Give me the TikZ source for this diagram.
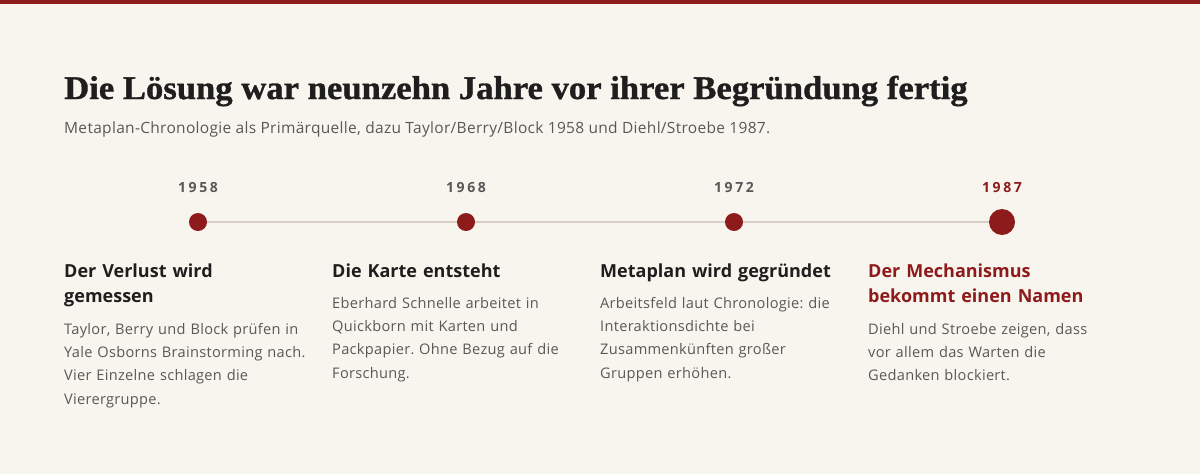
\documentclass[tikz,border=0pt]{standalone}
\usepackage{fontspec}
\setmainfont{Open Sans}
\newfontfamily\titlefont[FakeBold=1]{Liberation Serif}
\frenchspacing
\definecolor{bgc}{HTML}{F8F5EE}
\definecolor{accent}{HTML}{8E1B1B}
\definecolor{ink}{HTML}{1E1E1E}
\definecolor{muted}{HTML}{585858}
\definecolor{rail}{HTML}{D9CFC4}
\tikzset{
  dot/.style={circle, fill=accent, inner sep=0pt, minimum size=18pt},
  bigdot/.style={circle, fill=accent, inner sep=0pt, minimum size=26pt},
  railline/.style={draw=rail, line width=2pt},
  yearlbl/.style={anchor=base, inner sep=0pt, text=muted, font=\fontsize{14}{16}\selectfont\bfseries\addfontfeatures{LetterSpace=18}},
  headlbl/.style={anchor=base west, inner sep=0pt, text=ink, text width=260pt, align=left, font=\fontsize{18}{25.5}\selectfont\bfseries},
  bodylbl/.style={anchor=base west, inner sep=0pt, text=muted, text width=260pt, align=left, font=\fontsize{14.6}{23.4}\selectfont\addfontfeatures{LetterSpace=2}},
}
\begin{document}
\begin{tikzpicture}[x=1pt,y=-1pt]
\fill[bgc] (0,0) rectangle (1200,474);
\useasboundingbox (0,0) rectangle (1200,474);
\fill[accent] (0,0) rectangle (1200,4);

\node[anchor=base west, inner sep=0pt, text=ink, font=\titlefont\bfseries\fontsize{33}{38}\selectfont] (title) at (64,99) {\scalebox{1.05}[1]{Die Lösung war neunzehn Jahre vor ihrer Begründung fertig}};
\node[anchor=base west, inner sep=0pt, text=muted, font=\fontsize{15.5}{18}\selectfont\addfontfeatures{LetterSpace=2}] (sub) at (64,133) {Metaplan-Chronologie als Primärquelle, dazu Taylor/Berry/Block 1958 und Diehl/Stroebe 1987.};

\node[dot] (d1) at (198,222) {};
\node[dot] (d2) at (466,222) {};
\node[dot] (d3) at (734,222) {};
\node[bigdot] (d4) at (1002,222) {};
\draw[railline] (d1) -- (d2);
\draw[railline] (d2) -- (d3);
\draw[railline] (d3) -- (d4);

\node[yearlbl] (y1) at (198,192) {1958};
\node[yearlbl] (y2) at (466,192) {1968};
\node[yearlbl] (y3) at (734,192) {1972};
\node[yearlbl, text=accent] (y4) at (1002,192) {1987};

\node[headlbl] (h1) at (64,277) {Der Verlust wird\\gemessen};
\node[headlbl] (h2) at (332,277) {Die Karte entsteht};
\node[headlbl] (h3) at (600,277) {Metaplan wird gegründet};
\node[headlbl, text=accent] (h4) at (868,277) {Der Mechanismus\\bekommt einen Namen};

\node[bodylbl] (b1) at (64,334) {Taylor, Berry und Block prüfen in\\Yale Osborns Brainstorming nach.\\Vier Einzelne schlagen die\\Vierergruppe.};
\node[bodylbl] (b2) at (332,308) {Eberhard Schnelle arbeitet in\\Quickborn mit Karten und\\Packpapier. Ohne Bezug auf die\\Forschung.};
\node[bodylbl] (b3) at (600,308) {Arbeitsfeld laut Chronologie: die\\Interaktionsdichte bei\\Zusammenkünften großer\\Gruppen erhöhen.};
\node[bodylbl] (b4) at (868,334) {Diehl und Stroebe zeigen, dass\\vor allem das Warten die\\Gedanken blockiert.};
\end{tikzpicture}
\end{document}
